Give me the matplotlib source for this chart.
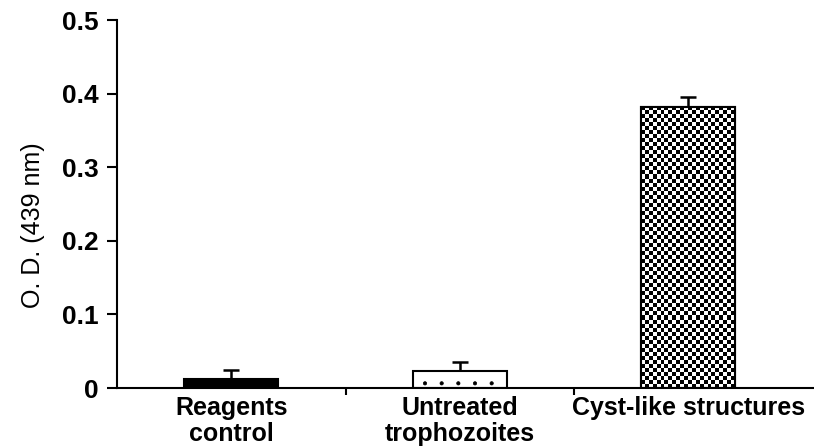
import numpy as np
import matplotlib
matplotlib.use("Agg")
import matplotlib.pyplot as plt

plt.rcParams['font.family'] = ['Liberation Sans', 'DejaVu Sans']
plt.rcParams['hatch.linewidth'] = 0.5

categories = ["Reagents\ncontrol", "Untreated\ntrophozoites", "Cyst-like structures"]
od_values = [0.012, 0.023, 0.382]
od_errors = [0.013, 0.013, 0.014]
y_ticks = [0, 0.1, 0.2, 0.3, 0.4, 0.5]
y_tick_labels = ["0", "0.1", "0.2", "0.3", "0.4", "0.5"]

fig = plt.figure(figsize=(8.14, 4.48), dpi=100)
ax = fig.add_axes([0.1437, 0.1339, 0.8563, 0.8214])

x = np.arange(len(categories))
bars = ax.bar(x, od_values, width=0.41, edgecolor='black', linewidth=1.5,
              color=['black', 'white', 'white'], zorder=2)
bars[1].set_hatch('.')

# checkerboard fill for the third bar, clipped to the bar outline
rect = bars[2]
checker = np.indices((70, 24)).sum(axis=0) % 2
ax.imshow(checker, cmap='gray', interpolation='nearest', aspect='auto',
          extent=(rect.get_x(), rect.get_x() + rect.get_width(), 0, rect.get_height()),
          clip_path=rect, zorder=2.5)
ax.add_patch(plt.Rectangle((rect.get_x(), 0), rect.get_width(), rect.get_height(),
                           fill=False, edgecolor='black', linewidth=1.5, zorder=3))

ax.errorbar(x, od_values, yerr=[np.zeros(len(od_errors)), od_errors], fmt='none',
            ecolor='black', elinewidth=1.8, capsize=5.5, capthick=1.8, zorder=1)

ax.set_xlim(-0.5, 2.55)
ax.set_ylim(0, 0.5)
ax.set_yticks(y_ticks)
ax.set_yticklabels(y_tick_labels, fontsize=19, fontweight='bold')
ax.set_xticks(x)
ax.set_xticklabels(categories, fontsize=18, fontweight='bold', linespacing=1.1)
ax.set_xticks([0.5, 1.5], minor=True)
ax.tick_params(axis='x', which='major', length=0, pad=6)
ax.tick_params(axis='x', which='minor', length=5, width=1.5)
ax.tick_params(axis='y', length=7, width=1.5, pad=6)
ax.set_ylabel("O. D. (439 nm)", fontsize=18)
ax.yaxis.set_label_coords(-0.103, 0.443)

for side in ['top', 'right']:
    ax.spines[side].set_visible(False)
for side in ['left', 'bottom']:
    ax.spines[side].set_linewidth(1.5)

fig.savefig('out.png', dpi=100)
